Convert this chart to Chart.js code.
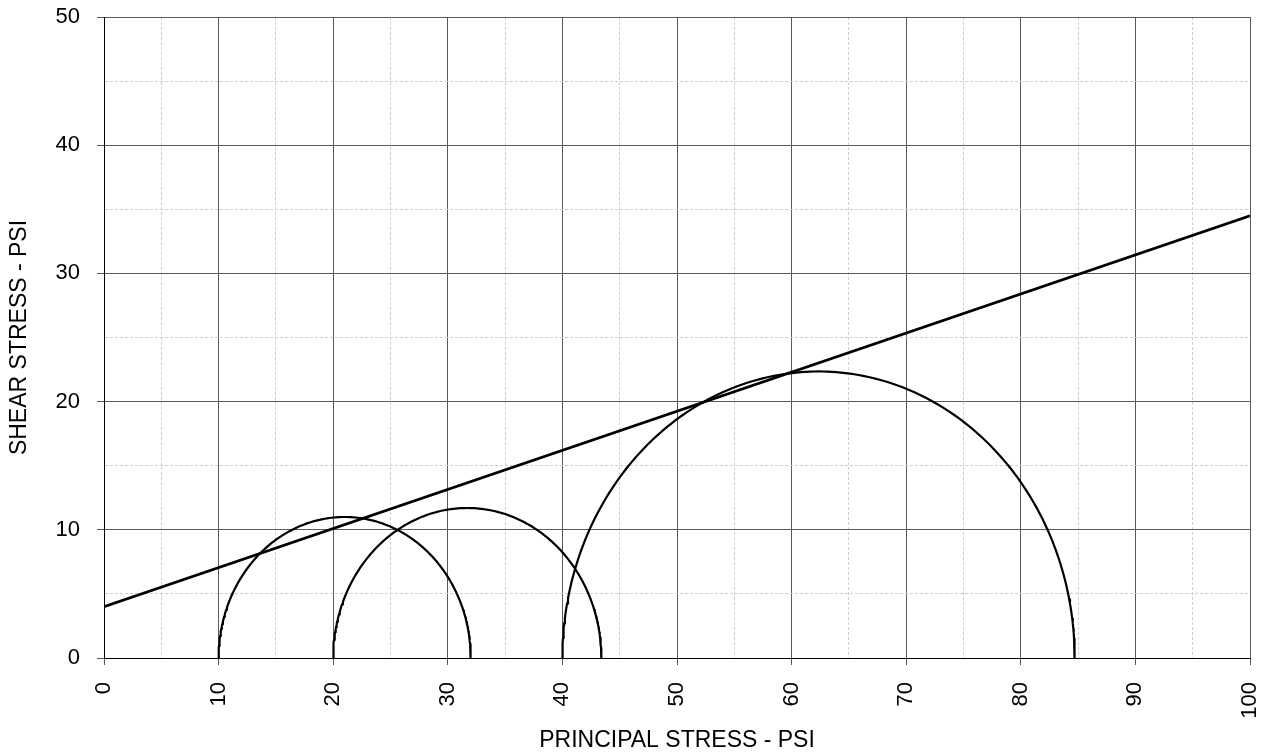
<!DOCTYPE html>
<html>
<head>
<meta charset="utf-8">
<title>Mohr circles</title>
<script src="https://cdn.jsdelivr.net/npm/chart.js@4.4.1/dist/chart.umd.min.js"></script>
<style>
  html, body { margin: 0; padding: 0; background: #fff; }
  #wrap { width: 1268px; height: 756px; }
</style>
</head>
<body>
<div id="wrap"><canvas id="mohr" width="1268" height="756"></canvas></div>
<script>
// Test results, psi
const minorStress = [10, 20, 40];       // sigma 3 of each test
const majorStress = [32, 43.4, 84.7];   // sigma 1 of each test

// Failure envelope, read at both ends of the x range
const envelopeX = [0, 100];
const envelopeY = [4, 34.5];

// Axis ranges and tick spacing
const xRange = [0, 100];
const yRange = [0, 50];
const majorStep = 10;
const minorStep = 5;

const MAJOR_GRID = '#5a5a5a';
const MINOR_GRID = '#cfcfcf';

// upper half of a Mohr circle between sigma3 and sigma1
function mohrArc(s3, s1) {
    const c = (s1 + s3) / 2;
    const r = (s1 - s3) / 2;
    const pts = [];
    for (let i = 0; i <= 180; i++) {
        const a = Math.PI * i / 180;
        pts.push({ x: c - r * Math.cos(a), y: r * Math.sin(a) });
    }
    return pts;
}

const isMajor = (ctx) => ctx.tick && ctx.tick.value % majorStep === 0;

function gridFor() {
    return {
        color: (ctx) => isMajor(ctx) ? MAJOR_GRID : MINOR_GRID,
        tickColor: (ctx) => isMajor(ctx) ? MAJOR_GRID : 'rgba(0,0,0,0)',
        lineWidth: 1,
        tickLength: 7
    };
}

function borderFor() {
    return {
        color: '#000',
        width: 1,
        z: 1,
        dash: (ctx) => (ctx.tick && !isMajor(ctx)) ? [3, 2] : []
    };
}

Chart.defaults.font.family = "'Liberation Sans', Arial, sans-serif";
Chart.defaults.color = '#000';

const datasets = minorStress.map((s3, i) => ({
    label: 'Test ' + (i + 1),
    data: mohrArc(s3, majorStress[i]),
    borderColor: '#000',
    borderWidth: 2.2,
    pointRadius: 0,
    showLine: true,
    fill: false
}));

datasets.push({
    label: 'Envelope',
    data: envelopeX.map((x, i) => ({ x: x, y: envelopeY[i] })),
    borderColor: '#000',
    borderWidth: 2.8,
    pointRadius: 0,
    showLine: true,
    fill: false
});

new Chart(document.getElementById('mohr').getContext('2d'), {
    type: 'scatter',
    data: { datasets: datasets },
    options: {
        responsive: false,
        animation: false,
        layout: { padding: { top: 17, right: 18, left: 0, bottom: 0 } },
        plugins: {
            legend: { display: false },
            tooltip: { enabled: false }
        },
        scales: {
            x: {
                type: 'linear',
                min: xRange[0],
                max: xRange[1],
                afterFit: (axis) => {
                    axis.height = 98;
                    axis.paddingLeft = 0;
                    axis.paddingRight = 0;
                },
                ticks: {
                    stepSize: minorStep,
                    autoSkip: false,
                    maxRotation: 90,
                    minRotation: 90,
                    padding: 17,
                    font: { size: 22 },
                    callback: (v) => v % majorStep === 0 ? v : ''
                },
                grid: gridFor(),
                border: borderFor(),
                title: {
                    display: true,
                    text: 'PRINCIPAL STRESS - PSI',
                    font: { size: 23 },
                    padding: { top: 0, bottom: 2 }
                }
            },
            y: {
                type: 'linear',
                min: yRange[0],
                max: yRange[1],
                afterFit: (axis) => {
                    axis.width = 104;
                    axis.paddingTop = 0;
                    axis.paddingBottom = 0;
                },
                ticks: {
                    stepSize: minorStep,
                    autoSkip: false,
                    padding: 17,
                    font: { size: 22 },
                    callback: (v) => v % majorStep === 0 ? v : ''
                },
                grid: gridFor(),
                border: borderFor(),
                title: {
                    display: true,
                    text: 'SHEAR STRESS - PSI',
                    font: { size: 23 },
                    padding: { top: 6, bottom: 0 }
                }
            }
        }
    }
});
</script>
</body>
</html>
